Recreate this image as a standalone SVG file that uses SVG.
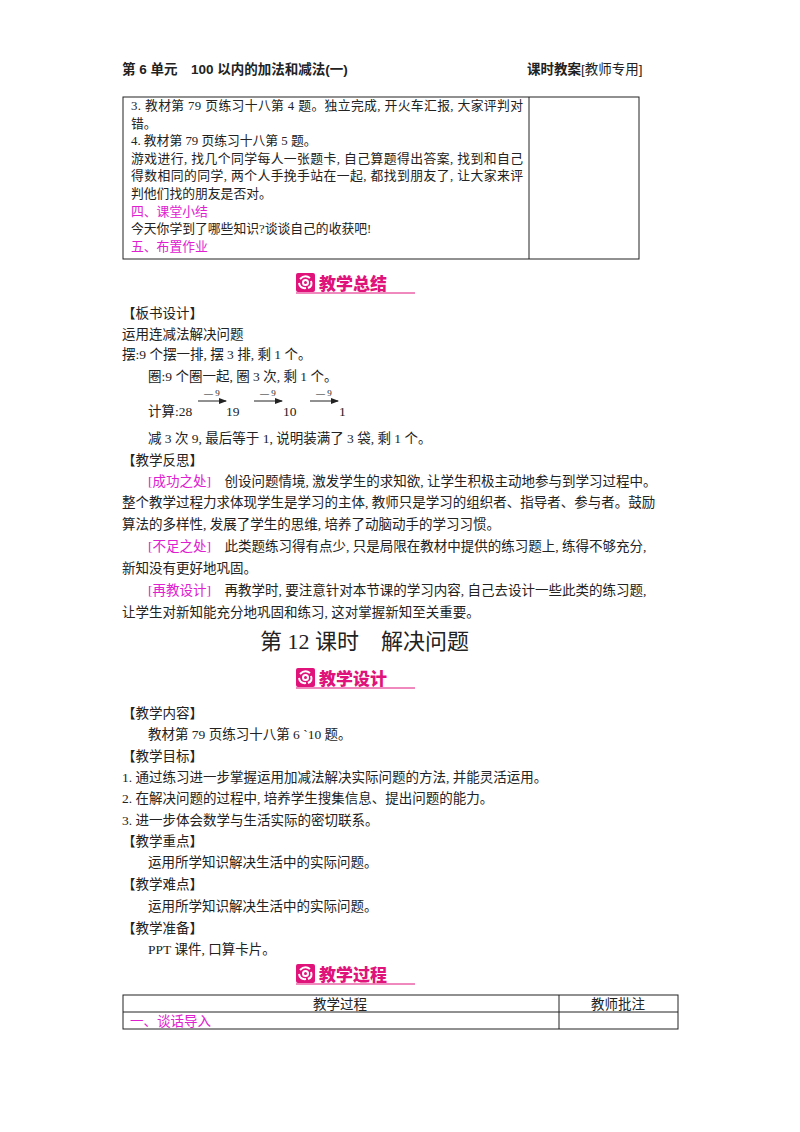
<svg xmlns="http://www.w3.org/2000/svg" width="800" height="1132" viewBox="0 0 800 1132">
<style>
text{font-family:"Liberation Serif","Noto Sans CJK SC",serif;font-size:13.5px;fill:#222}
.h{font-family:"Liberation Sans","Noto Sans CJK SC",sans-serif;font-weight:bold;font-size:13.5px}
.m{fill:#e020d0}
.tb{font-size:12.8px}
.b{font-family:"Noto Sans CJK SC",sans-serif;font-weight:900;font-size:17px;fill:#e0137a}
.t{font-size:22px}
.ln{stroke:#222;stroke-width:1;fill:none}
.sm{font-size:9px}
</style>
<defs>
<marker id="ar" markerWidth="8" markerHeight="6" refX="7" refY="3" orient="auto"><path d="M0,0L8,3L0,6z" fill="#222"/></marker>
<g id="ic"><rect x="0" y="0" width="19" height="19" rx="2" fill="#e0137a"/><g stroke="#fff" stroke-width="2" fill="none"><path d="M4,6Q9,1 14,5"/><path d="M15,8Q17,13 12,15"/><path d="M10,15Q4,16 3,10"/><circle cx="9.5" cy="9.5" r="2.5"/></g></g>
</defs>
<g id="header"><text x="122" y="74" class="h">第 6 单元　100 以内的加法和减法(一)</text><text x="527" y="74" class="h">课时教案<tspan font-weight="normal">[教师专用]</tspan></text></g>
<g id="table1">
<rect x="123" y="97" width="516" height="162" class="ln"/><line x1="529" y1="97" x2="529" y2="259" class="ln"/>
<text class="tb" x="131" y="110" textLength="392">3. 教材第 79 页练习十八第 4 题。独立完成, 开火车汇报, 大家评判对</text>
<text class="tb" x="131" y="127.6">错。</text>
<text class="tb" x="131" y="145.2">4. 教材第 79 页练习十八第 5 题。</text>
<text class="tb" x="131" y="162.8" textLength="392">游戏进行, 找几个同学每人一张题卡, 自己算题得出答案, 找到和自己</text>
<text class="tb" x="131" y="180.4" textLength="392">得数相同的同学, 两个人手挽手站在一起, 都找到朋友了, 让大家来评</text>
<text class="tb" x="131" y="198">判他们找的朋友是否对。</text>
<text class="tb m" x="131" y="215.6">四、课堂小结</text>
<text class="tb" x="131" y="233.2">今天你学到了哪些知识?谈谈自己的收获吧!</text>
<text class="tb m" x="131" y="250.8">五、布置作业</text>
<text class="tb" x="131" y="257.5" opacity="0"> </text>
</g>
<text class="tb" x="131" y="256" font-size="0.1" opacity="0"> </text>
<g id="banner1"><use href="#ic" x="296" y="273"/><text x="319" y="290" class="b">教学总结</text><line x1="296" y1="293" x2="415" y2="293" stroke="#e0137a"/></g>
<g id="board">
<text x="122" y="318">【板书设计】</text>
<text x="122" y="339">运用连减法解决问题</text>
<text x="122" y="359">摆:9 个摆一排, 摆 3 排, 剩 1 个。</text>
<text x="148" y="381">圈:9 个圈一起, 圈 3 次, 剩 1 个。</text>
<text x="148" y="416">计算:28</text><text x="226" y="416">19</text><text x="283" y="416">10</text><text x="339" y="416">1</text>
<g class="ln"><line x1="198" y1="401" x2="226" y2="401" marker-end="url(#ar)"/><line x1="254" y1="401" x2="282" y2="401" marker-end="url(#ar)"/><line x1="310" y1="401" x2="338" y2="401" marker-end="url(#ar)"/></g>
<text x="204" y="396" class="sm">— 9</text><text x="260" y="396" class="sm">— 9</text><text x="316" y="396" class="sm">— 9</text>
<text x="148" y="443">减 3 次 9, 最后等于 1, 说明装满了 3 袋, 剩 1 个。</text>
<text x="122" y="465">【教学反思】</text>
<text x="148" y="486"><tspan class="m">[成功之处]</tspan>　创设问题情境, 激发学生的求知欲, 让学生积极主动地参与到学习过程中。</text>
<text x="122" y="507">整个教学过程力求体现学生是学习的主体, 教师只是学习的组织者、指导者、参与者。鼓励</text>
<text x="122" y="529">算法的多样性, 发展了学生的思维, 培养了动脑动手的学习习惯。</text>
<text x="148" y="551"><tspan class="m">[不足之处]</tspan>　此类题练习得有点少, 只是局限在教材中提供的练习题上, 练得不够充分,</text>
<text x="122" y="573">新知没有更好地巩固。</text>
<text x="148" y="595"><tspan class="m">[再教设计]</tspan>　再教学时, 要注意针对本节课的学习内容, 自己去设计一些此类的练习题,</text>
<text x="122" y="617">让学生对新知能充分地巩固和练习, 这对掌握新知至关重要。</text>
</g>
<text x="260" y="649" class="t">第 12 课时　解决问题</text>
<g id="banner2"><use href="#ic" x="296" y="668"/><text x="319" y="685" class="b">教学设计</text><line x1="296" y1="688" x2="415" y2="688" stroke="#e0137a"/></g>
<g id="design">
<text x="122" y="718">【教学内容】</text>
<text x="148" y="739">教材第 79 页练习十八第 6 ˋ10 题。</text>
<text x="122" y="761">【教学目标】</text>
<text x="122" y="782">1. 通过练习进一步掌握运用加减法解决实际问题的方法, 并能灵活运用。</text>
<text x="122" y="803">2. 在解决问题的过程中, 培养学生搜集信息、提出问题的能力。</text>
<text x="122" y="825">3. 进一步体会数学与生活实际的密切联系。</text>
<text x="122" y="846">【教学重点】</text>
<text x="148" y="867">运用所学知识解决生活中的实际问题。</text>
<text x="122" y="889">【教学难点】</text>
<text x="148" y="911">运用所学知识解决生活中的实际问题。</text>
<text x="122" y="933">【教学准备】</text>
<text x="148" y="954">PPT 课件, 口算卡片。</text>
</g>
<g id="banner3"><use href="#ic" x="296" y="964"/><text x="319" y="981" class="b">教学过程</text><line x1="296" y1="984" x2="415" y2="984" stroke="#e0137a"/></g>
<g id="table2">
<rect x="123" y="995" width="555" height="34" class="ln"/><line x1="123" y1="1012" x2="678" y2="1012" class="ln"/><line x1="559" y1="995" x2="559" y2="1029" class="ln"/>
<text x="340" y="1009" text-anchor="middle">教学过程</text><text x="618" y="1009" text-anchor="middle">教师批注</text>
<text x="130" y="1026" class="m">一、谈话导入</text>
</g>
</svg>
